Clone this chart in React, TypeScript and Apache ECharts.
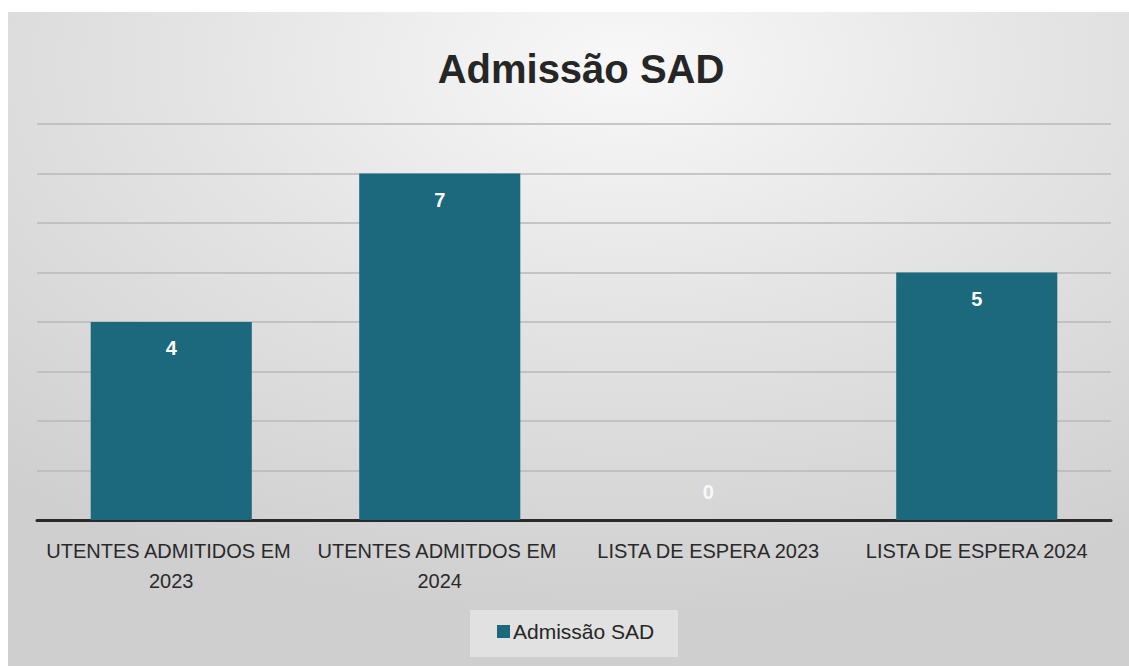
import React, { useEffect, useRef } from "react";
import * as echarts from "echarts";

const categories = [
  "UTENTES ADMITIDOS EM 2023",
  "UTENTES ADMITDOS EM 2024",
  "LISTA DE ESPERA 2023",
  "LISTA DE ESPERA 2024",
];
const values = [4, 7, 0, 5];
const seriesName = "Admissão SAD";
const titleText = "Admissão SAD";

const FONT = "'Liberation Sans', Arial, sans-serif";

export default function App() {
  const ref = useRef<HTMLDivElement>(null);
  useEffect(() => {
    if (!ref.current) return;
    const chart = echarts.init(ref.current, null, { renderer: "svg" });
    const data = values.map((v) =>
      v === 0
        ? {
            value: v,
            label: {
              position: "insideBottom",
              distance: 18,
              color: "rgba(255,255,255,0.85)",
            },
          }
        : v
    );
    chart.setOption({
      animation: false,
      backgroundColor: "#ffffff",
      textStyle: { fontFamily: FONT },
      graphic: [
        {
          type: "rect",
          z: -100,
          silent: true,
          shape: { x: 8, y: 12, width: 1121, height: 654 },
          style: {
            fill: {
              type: "radial",
              x: 0.55,
              y: 0.08,
              r: 0.85,
              colorStops: [
                { offset: 0, color: "#f8f8f8" },
                { offset: 0.45, color: "#e4e4e4" },
                { offset: 1, color: "#cfcfcf" },
              ],
            },
          },
        },
        {
          type: "rect",
          z: -50,
          silent: true,
          shape: { x: 470, y: 610, width: 208, height: 47 },
          style: { fill: "rgba(236,236,236,0.6)" },
        },
      ],
      title: {
        text: titleText,
        left: 576,
        textAlign: "center",
        top: 44,
        textStyle: {
          fontFamily: FONT,
          fontSize: 40,
          fontWeight: "bold",
          color: "#262626",
        },
      },
      legend: {
        data: [seriesName],
        left: 497,
        top: 621,
        padding: 0,
        itemWidth: 13,
        itemHeight: 13,
        icon: "rect",
        textStyle: {
          fontFamily: FONT,
          fontSize: 21,
          color: "#262626",
          padding: [0, 0, 0, -2],
        },
      },
      grid: {
        left: 37,
        right: 18,
        top: 124,
        bottom: 146,
        containLabel: false,
      },
      xAxis: {
        type: "category",
        data: categories,
        axisLine: { show: true, lineStyle: { color: "#2a2a2a", width: 3 } },
        axisTick: { show: false },
        axisLabel: {
          interval: 0,
          margin: 16,
          fontFamily: FONT,
          fontSize: 20,
          color: "#2a2a2a",
          lineHeight: 30,
          width: 262,
          overflow: "break",
        },
      },
      yAxis: {
        type: "value",
        min: 0,
        max: 8,
        interval: 1,
        axisLabel: { show: false },
        axisLine: { show: false },
        axisTick: { show: false },
        splitLine: { lineStyle: { color: "#b9b9b9", width: 1.5 } },
      },
      series: [
        {
          name: seriesName,
          type: "bar",
          data,
          barWidth: "60%",
          itemStyle: { color: "#1c687d" },
          label: {
            show: true,
            position: "insideTop",
            distance: 16,
            fontFamily: FONT,
            fontSize: 20,
            fontWeight: "bold",
            color: "#ffffff",
          },
        },
      ],
    });
    return () => chart.dispose();
  }, []);
  return (
    <div
      ref={ref}
      style={{
        position: "fixed",
        left: 0,
        top: 0,
        width: 1129,
        height: 666,
      }}
    />
  );
}
